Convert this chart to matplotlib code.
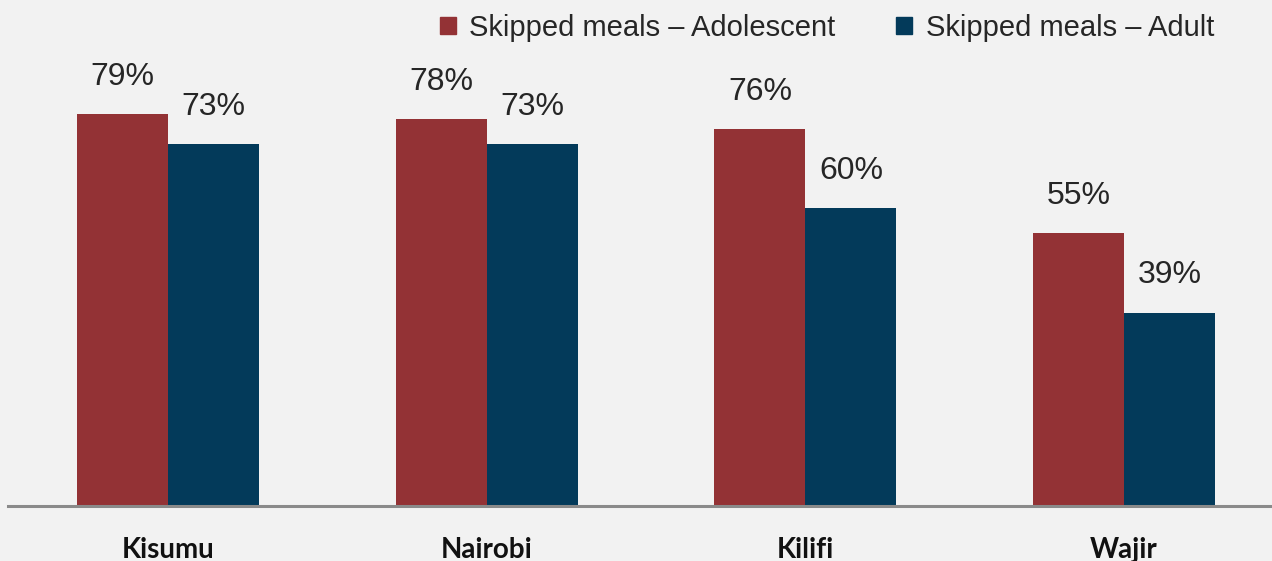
import numpy as np
import matplotlib
matplotlib.use('Agg')
import matplotlib.pyplot as plt
import matplotlib.transforms as mtransforms
from matplotlib.patches import Patch

# data
regions = ['Kisumu', 'Nairobi', 'Kilifi', 'Wajir']
adolescent = [79, 78, 76, 55]
adult = [73, 73, 60, 39]
series_names = ['Skipped meals \u2013 Adolescent', 'Skipped meals \u2013 Adult']

red = '#933235'
navy = '#033a5a'
bg = '#f2f2f2'

W, H = 1272, 561
fig = plt.figure(figsize=(W / 100, H / 100), dpi=100, facecolor=bg)

# axes placed in pixel terms: baseline at y=506, ~4.96 px per percent
left_px, base_px = 8, 506
ax = fig.add_axes([left_px / W, (H - base_px) / H, 1 - left_px / W, 496 / H])
ax.set_facecolor(bg)

spacing = 318.7  # px between group centres
x = np.arange(len(regions))
bw = 91 / spacing
ax.set_xlim((left_px - 168) / spacing, (W - 168) / spacing)
ax.set_ylim(0, 100)

b1 = ax.bar(x - bw / 2, adolescent, bw, color=red, zorder=2)
b2 = ax.bar(x + bw / 2, adult, bw, color=navy, zorder=2)

ax.axhline(0, color='#8a8a8a', lw=2.2, zorder=3, clip_on=False)

for bars, vals in [(b1, adolescent), (b2, adult)]:
    for rect, v in zip(bars, vals):
        ax.annotate(f'{v}%', (rect.get_x() + rect.get_width() / 2, v),
                    xytext=(0, 21), textcoords='offset points',
                    ha='center', va='baseline', fontsize=23,
                    family='Liberation Sans', color='#262626')

# region names sit below the baseline (baseline of text at y~558 px)
shift = mtransforms.ScaledTranslation(0, -52 / 100, fig.dpi_scale_trans)
for xi, name in zip(x, regions):
    ax.text(xi, 0, name, transform=ax.get_xaxis_transform() + shift,
            ha='center', va='baseline', fontsize=20, fontweight='bold',
            family='Lato', color='#111111')

for s in ax.spines.values():
    s.set_visible(False)
ax.set_xticks([])
ax.set_yticks([])

handles = [Patch(color=red), Patch(color=navy)]
fig.legend(handles, series_names, loc='center right', ncol=2,
           bbox_to_anchor=(1214 / W, 1 - 28 / H), frameon=False,
           prop={'family': 'Liberation Sans', 'size': 21},
           handlelength=0.55, handleheight=0.55, handletextpad=0.45,
           columnspacing=2.1, borderpad=0, borderaxespad=0, labelcolor='#262626')

fig.savefig('out.png', dpi=100, facecolor=bg)
